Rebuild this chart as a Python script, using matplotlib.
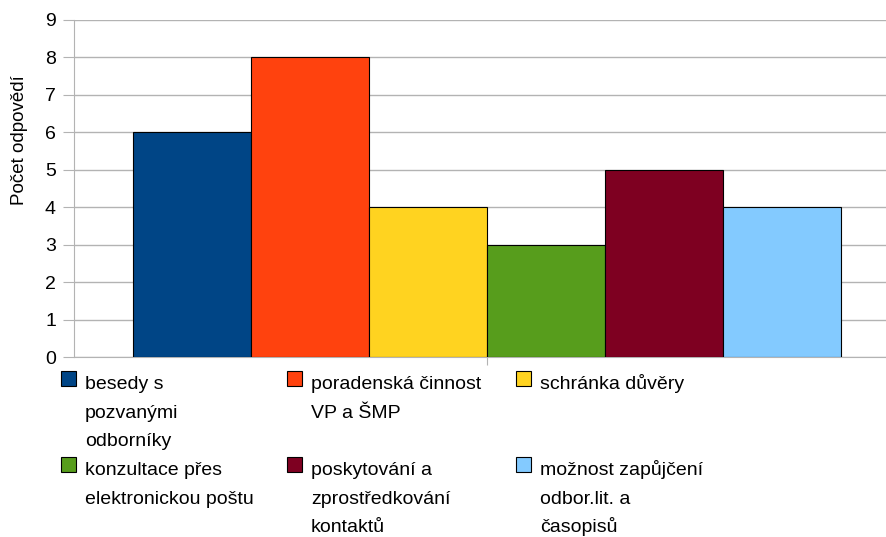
import matplotlib

matplotlib.use("Agg")
import matplotlib.pyplot as plt
from matplotlib.patches import Rectangle

categories = [
    "besedy s\npozvanými\nodborníky",
    "poradenská činnost\nVP a ŠMP",
    "schránka důvěry",
    "konzultace přes\nelektronickou poštu",
    "poskytování a\nzprostředkování\nkontaktů",
    "možnost zapůjčení\nodbor.lit. a\nčasopisů",
]
values = [6, 8, 4, 3, 5, 4]
colors = ["#004586", "#ff420e", "#ffd320", "#579d1c", "#7e0021", "#83caff"]
y_ticks = list(range(0, 10))

plt.rcParams["font.family"] = ["Liberation Sans", "DejaVu Sans"]

W, H = 887, 537
fig = plt.figure(figsize=(W / 100, H / 100), dpi=100)
ax = fig.add_axes([74 / W, 1 - 357 / H, 826 / W, 337 / H])

n = len(values)
slot = 1 / (n + 1)
for i, (v, c) in enumerate(zip(values, colors)):
    x = -0.5 + slot / 2 + (i + 0.5) * slot
    ax.bar(x, v, width=slot, color=c, edgecolor="black", linewidth=0.8, zorder=3)

ax.set_xlim(-0.5, 0.5)
ax.set_ylim(0, 9)
ax.set_yticks(y_ticks)
ax.set_xticks([0])
ax.set_xticklabels([""])
ax.yaxis.grid(True, color="#b3b3b3", linewidth=1, zorder=0)
ax.tick_params(axis="y", length=8, color="#b3b3b3", labelsize=14, pad=5)
ax.tick_params(axis="x", length=6, color="#b3b3b3")
for s in ("top", "right"):
    ax.spines[s].set_visible(False)
ax.spines["left"].set_color("#b3b3b3")
ax.spines["bottom"].set_color("#b3b3b3")

fig.text(20 / W, 1 - 140 / H, "Počet odpovědí", rotation=90, fontsize=13.5,
         ha="center", va="center")

# legend laid out row by row, 3 columns
col_x = [61, 287, 516]
row_y = [371, 457]
for i, (lab, c) in enumerate(zip(categories, colors)):
    cx = col_x[i % 3]
    ry = row_y[i // 3]
    fig.patches.append(Rectangle((cx / W, 1 - (ry + 15) / H), 15 / W, 15 / H,
                                 transform=fig.transFigure, facecolor=c,
                                 edgecolor="black", linewidth=0.8))
    for j, line in enumerate(lab.split("\n")):
        fig.text((cx + 24) / W, 1 - (ry + 18 + j * 28.5) / H, line, fontsize=14,
                 ha="left", va="baseline")

fig.savefig("out.png", dpi=100)
